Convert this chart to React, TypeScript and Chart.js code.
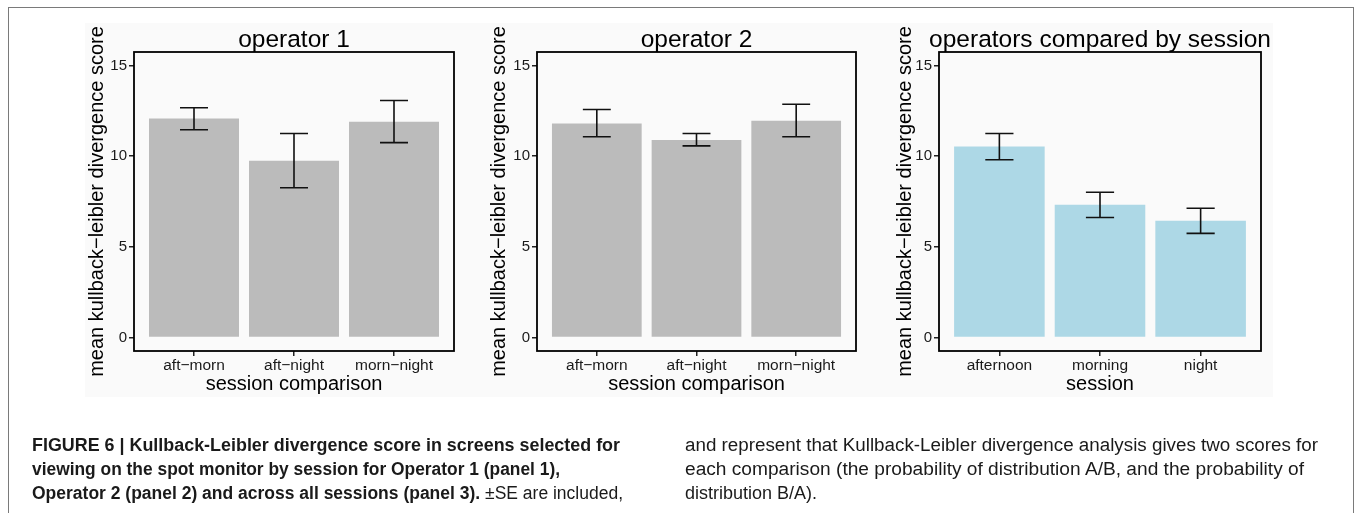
import React, { useEffect, useRef } from "react";
import { Chart, registerables } from "chart.js";

Chart.register(...registerables);

// ---------------- data ----------------
const yTickValues = [0, 5, 10, 15];
const yTickLabels = ["0", "5", "10", "15"];
const comparisonLabels = ["aft−morn", "aft−night", "morn−night"];
const sessionLabels = ["afternoon", "morning", "night"];

const op1Mean = [12.08, 9.75, 11.9];
const op1Lower = [11.46, 8.26, 10.75];
const op1Upper = [12.67, 11.25, 13.07];

const op2Mean = [11.8, 10.9, 11.95];
const op2Lower = [11.07, 10.57, 11.07];
const op2Upper = [12.58, 11.25, 12.87];

const sessionMean = [10.53, 7.32, 6.44];
const sessionLower = [9.8, 6.62, 5.74];
const sessionUpper = [11.25, 8.01, 7.13];

const panelTitles = ["operator 1", "operator 2", "operators compared by session"];
const yAxisTitle = "mean kullback−leibler divergence score";
const xAxisTitles = ["session comparison", "session comparison", "session"];

const captionLeft = [
  "FIGURE 6 | Kullback-Leibler divergence score in screens selected for",
  "viewing on the spot monitor by session for Operator 1 (panel 1),",
  "Operator 2 (panel 2) and across all sessions (panel 3).",
];
const captionLeftTail = " ±SE are included,";
const captionRight = [
  "and represent that Kullback-Leibler divergence analysis gives two scores for",
  "each comparison (the probability of distribution A/B, and the probability of",
  "distribution B/A).",
];

// ---------------- layout ----------------
const FONT = '"Liberation Sans", Arial, Helvetica, sans-serif';
const PANEL_TOP = 23;
const PANEL_H = 374;
const PLOT_TOP = 29; // within canvas
const PLOT_BOTTOM = 328; // within canvas

type PanelProps = {
  left: number;
  width: number;
  plotLeft: number;
  plotRight: number;
  yTitleOffset: number;
  title: string;
  xTitle: string;
  labels: string[];
  mean: number[];
  lower: number[];
  upper: number[];
  color: string;
};

const decoPlugin = {
  id: "panelDeco",
  afterDatasetsDraw(chart: any, _args: any, opts: any) {
    const { ctx, chartArea } = chart;
    const x = chart.scales.x;
    const y = chart.scales.y;
    ctx.save();
    // error bars
    ctx.strokeStyle = "#111";
    ctx.lineWidth = 1.6;
    const cap = 0.14;
    (opts.lower as number[]).forEach((lo: number, i: number) => {
      const hi = opts.upper[i];
      const cx = x.getPixelForValue(i);
      const x0 = x.getPixelForValue(i - cap);
      const x1 = x.getPixelForValue(i + cap);
      const yl = y.getPixelForValue(lo);
      const yh = y.getPixelForValue(hi);
      ctx.beginPath();
      ctx.moveTo(cx, yl);
      ctx.lineTo(cx, yh);
      ctx.moveTo(x0, yl);
      ctx.lineTo(x1, yl);
      ctx.moveTo(x0, yh);
      ctx.lineTo(x1, yh);
      ctx.stroke();
    });
    // panel box
    ctx.strokeStyle = "#000";
    ctx.lineWidth = 1.8;
    ctx.strokeRect(
      chartArea.left,
      chartArea.top,
      chartArea.right - chartArea.left,
      chartArea.bottom - chartArea.top
    );
    // titles
    const cx = (chartArea.left + chartArea.right) / 2;
    const cy = (chartArea.top + chartArea.bottom) / 2;
    ctx.fillStyle = "#000";
    ctx.textAlign = "center";
    ctx.textBaseline = "alphabetic";
    ctx.font = `24.5px ${FONT}`;
    ctx.fillText(opts.title, cx, chartArea.top - 5);
    ctx.font = `20px ${FONT}`;
    ctx.fillText(opts.xTitle, cx, chartArea.bottom + 39);
    ctx.translate(chartArea.left - opts.yTitleOffset, cy);
    ctx.rotate(-Math.PI / 2);
    ctx.fillText(opts.yTitle, 0, 0);
    ctx.restore();
  },
};

function Panel(p: PanelProps) {
  const ref = useRef<HTMLCanvasElement | null>(null);
  useEffect(() => {
    if (!ref.current) return;
    const leftW = p.plotLeft - p.left;
    const rightPad = p.left + p.width - p.plotRight;
    const chart = new Chart(ref.current, {
      type: "bar",
      data: {
        datasets: [
          {
            data: p.mean.map((v, i) => ({ x: i, y: v })),
            backgroundColor: p.color,
            borderWidth: 0,
            barPercentage: 0.9,
            categoryPercentage: 1,
          },
        ],
      },
      plugins: [decoPlugin],
      options: {
        animation: false,
        responsive: false,
        maintainAspectRatio: false,
        events: [],
        layout: { padding: { left: 0, top: PLOT_TOP, right: rightPad, bottom: 0 } },
        plugins: {
          legend: { display: false },
          tooltip: { enabled: false },
          title: { display: false },
          panelDeco: {
            lower: p.lower,
            upper: p.upper,
            title: p.title,
            xTitle: p.xTitle,
            yTitle: yAxisTitle,
            yTitleOffset: p.yTitleOffset,
          },
        } as any,
        scales: {
          x: {
            type: "linear",
            min: -0.6,
            max: 2.6,
            offset: false,
            afterBuildTicks: (s: any) => {
              s.ticks = p.labels.map((_, i) => ({ value: i }));
            },
            afterFit: (s: any) => {
              s.height = PANEL_H - PLOT_BOTTOM;
            },
            ticks: {
              autoSkip: false,
              maxRotation: 0,
              padding: 0,
              color: "#1a1a1a",
              font: { family: FONT, size: 15.5 },
              callback: (v: any) => p.labels[Math.round(Number(v))] ?? "",
            },
            grid: {
              offset: false,
              drawOnChartArea: false,
              drawTicks: true,
              tickLength: 5,
              color: "#222",
              lineWidth: 1.5,
            },
            border: { display: false },
          },
          y: {
            type: "linear",
            min: -0.75,
            max: 15.75,
            afterBuildTicks: (s: any) => {
              s.ticks = yTickValues.map((v) => ({ value: v }));
            },
            afterFit: (s: any) => {
              s.width = leftW;
            },
            ticks: {
              padding: 2,
              color: "#1a1a1a",
              font: { family: FONT, size: 15 },
              callback: (v: any) => {
                const idx = yTickValues.indexOf(Number(v));
                return idx >= 0 ? yTickLabels[idx] : "";
              },
            },
            grid: {
              drawOnChartArea: false,
              drawTicks: true,
              tickLength: 5,
              color: "#222",
              lineWidth: 1.5,
            },
            border: { display: false },
          },
        },
      } as any,
    });
    return () => chart.destroy();
  }, []);
  return (
    <canvas
      ref={ref}
      width={p.width}
      height={PANEL_H}
      style={{ position: "absolute", left: p.left, top: PANEL_TOP, width: p.width, height: PANEL_H }}
    />
  );
}

export default function App() {
  const txt = { fontFamily: FONT, fill: "#1a1a1a" } as any;
  return (
    <div
      style={{
        position: "absolute",
        left: 0,
        top: 0,
        width: 1357,
        height: 513,
        overflow: "hidden",
        background: "#fff",
      }}
    >
      <div
        style={{
          position: "absolute",
          left: 8,
          top: 7,
          width: 1344,
          height: 540,
          border: "1.5px solid #7a7a7a",
        }}
      />
      <div
        style={{
          position: "absolute",
          left: 85,
          top: PANEL_TOP,
          width: 1273 - 85,
          height: PANEL_H,
          background: "#fafafa",
        }}
      />
      <Panel
        left={85}
        width={396}
        plotLeft={134}
        plotRight={454}
        yTitleOffset={31}
        title={panelTitles[0]}
        xTitle={xAxisTitles[0]}
        labels={comparisonLabels}
        mean={op1Mean}
        lower={op1Lower}
        upper={op1Upper}
        color="#bbbbbb"
      />
      <Panel
        left={481}
        width={396}
        plotLeft={537}
        plotRight={856}
        yTitleOffset={32}
        title={panelTitles[1]}
        xTitle={xAxisTitles[1]}
        labels={comparisonLabels}
        mean={op2Mean}
        lower={op2Lower}
        upper={op2Upper}
        color="#bbbbbb"
      />
      <Panel
        left={877}
        width={396}
        plotLeft={939}
        plotRight={1261}
        yTitleOffset={28}
        title={panelTitles[2]}
        xTitle={xAxisTitles[2]}
        labels={sessionLabels}
        mean={sessionMean}
        lower={sessionLower}
        upper={sessionUpper}
        color="#add8e6"
      />
      <svg
        width={1357}
        height={513}
        style={{ position: "absolute", left: 0, top: 0 }}
      >
        <text {...txt} x={32} y={451} fontSize={18} fontWeight="bold" textLength={588} lengthAdjust="spacingAndGlyphs">
          {captionLeft[0]}
        </text>
        <text {...txt} x={32} y={475} fontSize={18} fontWeight="bold" textLength={528} lengthAdjust="spacingAndGlyphs">
          {captionLeft[1]}
        </text>
        <text {...txt} x={32} y={499} fontSize={18} textLength={591} lengthAdjust="spacingAndGlyphs" style={{ whiteSpace: "pre" }}>
          <tspan fontWeight="bold">{captionLeft[2]}</tspan>
          <tspan>{captionLeftTail}</tspan>
        </text>
        <text {...txt} x={685} y={451} fontSize={18} textLength={633} lengthAdjust="spacingAndGlyphs">
          {captionRight[0]}
        </text>
        <text {...txt} x={685} y={475} fontSize={18} textLength={619} lengthAdjust="spacingAndGlyphs">
          {captionRight[1]}
        </text>
        <text {...txt} x={685} y={499} fontSize={18}>
          {captionRight[2]}
        </text>
      </svg>
    </div>
  );
}
